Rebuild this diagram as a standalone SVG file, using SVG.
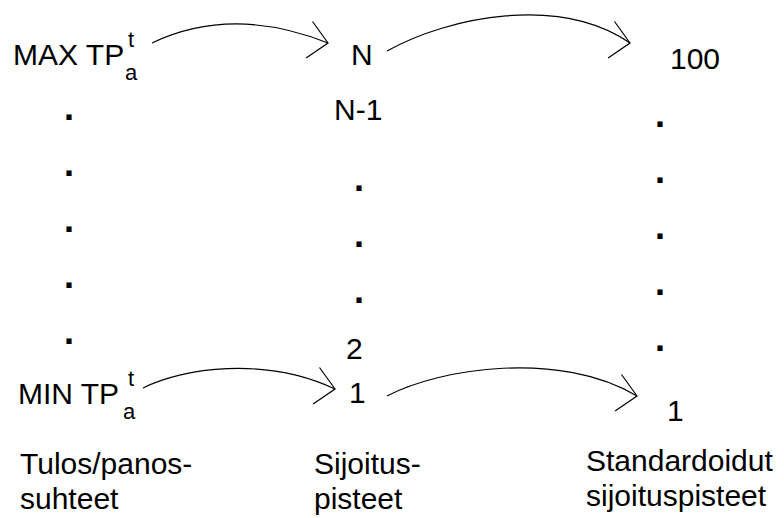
<svg xmlns="http://www.w3.org/2000/svg" width="784" height="518" viewBox="0 0 784 518">
  <style>
    text { font-family: "Liberation Sans", Arial, sans-serif; fill: #000; }
    .lbl { font-size: 30px; }
    .idx { font-size: 22px; }
    .dot { font-size: 36px; font-weight: bold; text-anchor: middle; }
    .arc { fill: none; stroke: #000; stroke-width: 1.2; marker-end: url(#open); }
  </style>
  <defs>
    <!-- open V arrowhead, fixed tilt as drawn -->
    <marker id="open" markerUnits="userSpaceOnUse" viewBox="-22 -22 26 44" refX="0" refY="0" markerWidth="26" markerHeight="44" orient="10" overflow="visible">
      <path d="M-19,-18.5 L0,0 L-19,18.5" fill="none" stroke="#000" stroke-width="1.2"/>
    </marker>
  </defs>
  <rect width="784" height="518" fill="#fff"/>

  <!-- left column: performance ratios -->
  <g id="ratios">
    <text class="lbl" x="13" y="65">MAX TP</text>
    <text class="idx" x="128" y="47">t</text>
    <text class="idx" x="125" y="80">a</text>
    <text class="dot" x="69" y="120">.</text>
    <text class="dot" x="69" y="176">.</text>
    <text class="dot" x="69" y="232">.</text>
    <text class="dot" x="69" y="288">.</text>
    <text class="dot" x="69" y="344">.</text>
    <text class="lbl" x="18" y="404">MIN TP</text>
    <text class="idx" x="128" y="386">t</text>
    <text class="idx" x="123" y="419">a</text>
  </g>

  <!-- middle column: ranking points -->
  <g id="ranks">
    <text class="lbl" x="351" y="65">N</text>
    <text class="lbl" x="334" y="120">N-1</text>
    <text class="dot" x="359" y="191">.</text>
    <text class="dot" x="359" y="247">.</text>
    <text class="dot" x="359" y="303">.</text>
    <text class="lbl" x="346" y="359">2</text>
    <text class="lbl" x="349" y="403">1</text>
  </g>

  <!-- right column: standardised points -->
  <g id="standard">
    <text class="lbl" x="670" y="69">100</text>
    <text class="dot" x="660" y="127">.</text>
    <text class="dot" x="660" y="183">.</text>
    <text class="dot" x="660" y="239">.</text>
    <text class="dot" x="660" y="295">.</text>
    <text class="dot" x="660" y="351">.</text>
    <text class="lbl" x="667" y="421">1</text>
  </g>

  <!-- column captions -->
  <g id="caption-ratios">
    <text class="lbl" x="20" y="474">Tulos/panos-</text>
    <text class="lbl" x="20" y="509">suhteet</text>
  </g>
  <g id="caption-ranks">
    <text class="lbl" x="314" y="474">Sijoitus-</text>
    <text class="lbl" x="314" y="509">pisteet</text>
  </g>
  <g id="caption-standard">
    <text class="lbl" x="586" y="471">Standardoidut</text>
    <text class="lbl" x="586" y="506">sijoituspisteet</text>
  </g>

  <!-- mapping arcs -->
  <g id="connectors">
    <path class="arc" d="M152,43 C192,24 250,12 328,43"/>
    <path class="arc" d="M387,51 C450,16 560,-5 630,43"/>
    <path class="arc" d="M143,388 C182,368 265,356 335,389"/>
    <path class="arc" d="M387,396 C440,368 560,350 637,396"/>
  </g>
</svg>
